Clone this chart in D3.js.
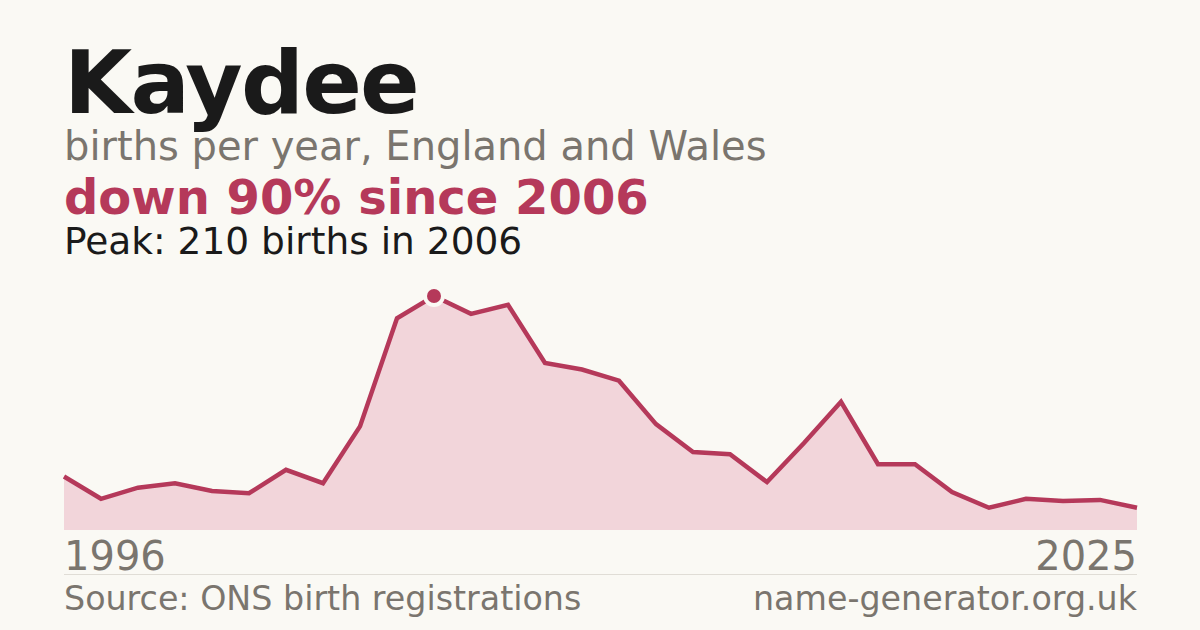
<!DOCTYPE html>
<html><head><meta charset="utf-8">
<script src="https://cdn.jsdelivr.net/npm/d3@7/dist/d3.min.js"></script>
<style>
html,body{margin:0;padding:0;background:#faf9f4;}
svg{display:block;}
text{font-family:"DejaVu Sans",sans-serif;}
</style></head>
<body><svg id="c" width="1200" height="630"></svg>
<script>
const years = d3.range(1996, 2026);
const births = [48,28,38,42,35,33,54,42,93,190,210,194,202,150,144,134,95,70,68,43,78,115,59,59,34,20,28,26,27,20];
const title = "Kaydee";
const subtitle = "births per year, England and Wales";
const headline = "down 90% since 2006";
const peakNote = "Peak: 210 births in 2006";
const source = "Source: ONS birth registrations";
const site = "name-generator.org.uk";

const data = years.map((y,i)=>({year:y, value:births[i]}));
const svg = d3.select("#c");
svg.append("rect").attr("width",1200).attr("height",630).attr("fill","#faf9f4");

const x = d3.scaleLinear().domain([1996,2025]).range([64,1137]);
const y = d3.scaleLinear().domain([0,210]).range([530,296]);

svg.append("path").datum(data)
  .attr("d", d3.area().x(d=>x(d.year)).y0(y(0)).y1(d=>y(d.value)))
  .attr("fill","#f2d5da");
svg.append("path").datum(data)
  .attr("d", d3.line().x(d=>x(d.year)).y(d=>y(d.value)))
  .attr("fill","none").attr("stroke","#b5395a").attr("stroke-width",4.5)
  .attr("stroke-linejoin","miter");

const peak = data.reduce((a,b)=>b.value>a.value?b:a);
svg.append("circle").attr("cx",x(peak.year)).attr("cy",y(peak.value)).attr("r",11).attr("fill","#faf9f4");
svg.append("circle").attr("cx",x(peak.year)).attr("cy",y(peak.value)).attr("r",7).attr("fill","#b5395a");

svg.append("text").attr("x",64).attr("y",113).attr("font-size",88).attr("font-weight","bold")
  .attr("letter-spacing","-0.02em").attr("fill","#1a1a1a").text(title);
svg.append("text").attr("x",64).attr("y",160).attr("font-size",40).attr("fill","#7a756e").text(subtitle);
svg.append("text").attr("x",64).attr("y",214).attr("font-size",48).attr("font-weight","bold").attr("fill","#b5395a").text(headline);
svg.append("text").attr("x",64).attr("y",254).attr("font-size",37.5).attr("fill","#1a1a1a").text(peakNote);

svg.append("text").attr("x",64).attr("y",570).attr("font-size",40).attr("fill","#7a756e").text(years[0]);
svg.append("text").attr("x",1137).attr("y",570).attr("text-anchor","end").attr("font-size",40).attr("fill","#7a756e").text(years[years.length-1]);

svg.append("line").attr("x1",64).attr("x2",1137).attr("y1",574.5).attr("y2",574.5).attr("stroke","#e0ddd6").attr("stroke-width",1);

svg.append("text").attr("x",64).attr("y",610).attr("font-size",33.3).attr("fill","#7a756e").text(source);
svg.append("text").attr("x",1137).attr("y",610).attr("text-anchor","end").attr("font-size",33.3).attr("fill","#7a756e").text(site);
</script></body></html>
